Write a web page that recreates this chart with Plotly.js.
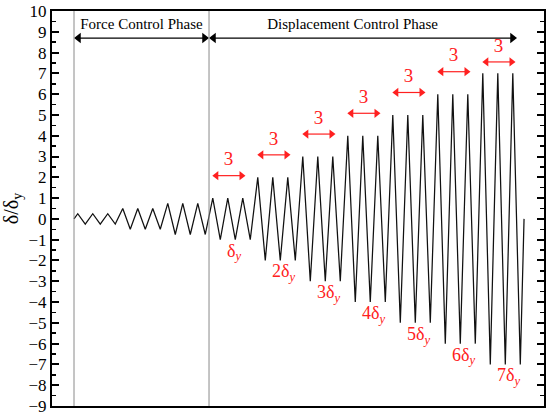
<!DOCTYPE html>
<html>
<head>
<meta charset="utf-8">
<script src="https://cdn.plot.ly/plotly-3.0.1.min.js"></script>
<style>html,body{margin:0;padding:0;background:#fff;}#chart{width:550px;height:419px;}</style>
</head>
<body>
<div id="chart"></div>
<script>
// Peak amplitude (δ/δy) of each loading cycle, in order
const cycleAmplitudes = [0.25, 0.25, 0.25, 0.5, 0.5, 0.5, 0.75, 0.75, 0.75,
  1, 1, 1, 2, 2, 2, 3, 3, 3, 4, 4, 4, 5, 5, 5, 6, 6, 6, 7, 7, 7];
// Phase boundaries in cycle number
const phaseBounds = [0, 9, 30];
const phaseNames = ['Force Control Phase', 'Displacement Control Phase'];
// Displacement levels and cycles per level
const dispLevels = [1, 2, 3, 4, 5, 6, 7];
const cyclesPerLevel = ['3', '3', '3', '3', '3', '3', '3'];
const levelLabels = ['δ<sub><i>y</i></sub>', '2δ<sub><i>y</i></sub>', '3δ<sub><i>y</i></sub>',
  '4δ<sub><i>y</i></sub>', '5δ<sub><i>y</i></sub>', '6δ<sub><i>y</i></sub>', '7δ<sub><i>y</i></sub>'];
const yTicks = [-9, -8, -7, -6, -5, -4, -3, -2, -1, 0, 1, 2, 3, 4, 5, 6, 7, 8, 9, 10];

// Build triangular history from cycle amplitudes
const xs = [0], ys = [0];
cycleAmplitudes.forEach((a, i) => {
  xs.push(i + 0.25); ys.push(a);
  xs.push(i + 0.75); ys.push(-a);
});
xs.push(cycleAmplitudes.length); ys.push(0);

const FONT = 'Liberation Serif, Times New Roman, serif';
const RED = '#ff2020';

const traces = [{
  x: xs, y: ys, type: 'scatter', mode: 'lines',
  line: {color: '#111', width: 1.25}, hoverinfo: 'skip'
}];

function doubleArrow(x0, x1, y, color, size, width) {
  const off = size / 2 / 15; // half marker width in cycle units
  traces.push({
    x: [x0 + off, x1 - off], y: [y, y], type: 'scatter', mode: 'lines+markers',
    line: {color: color, width: width},
    marker: {symbol: ['triangle-left', 'triangle-right'], size: size, color: color, line: {width: 0}},
    hoverinfo: 'skip', cliponaxis: false
  });
}

const shapes = phaseBounds.slice(0, 2).map(b => ({
  type: 'line', xref: 'x', yref: 'paper', x0: b, x1: b, y0: 0, y1: 1,
  line: {color: '#8a8a8a', width: 1}
}));

// Phase arrows and labels
const phaseArrowEnd = [9, 29.53];
const phaseLabelX = [4.5, 18.57];
phaseNames.forEach((name, i) => {
  doubleArrow(phaseBounds[i], phaseArrowEnd[i], 8.7, '#000', 9, 1.2);
});
traces.push({
  x: phaseLabelX, y: phaseLabelX.map(() => 9.31), type: 'scatter', mode: 'text',
  text: phaseNames, textposition: 'middle center',
  textfont: {family: FONT, size: 15, color: '#000'}, hoverinfo: 'skip', cliponaxis: false
});
// Cycle count arrows and level labels
const countX = [], countY = [], lvlX = [], lvlY = [];
dispLevels.forEach((lvl, k) => {
  const start = phaseBounds[1] + 3 * k;
  const ya = Math.min(lvl + 1.08, 7.55);
  doubleArrow(start + 0.22, start + 2.43, ya, RED, 8, 1.2);
  countX.push(start + 1.3); countY.push(ya + 0.72);
  lvlX.push(start + 1.2); lvlY.push(-(lvl + 0.6));
});
traces.push({
  x: countX, y: countY, type: 'scatter', mode: 'text', text: cyclesPerLevel,
  textposition: 'middle center', textfont: {family: FONT, size: 19, color: RED},
  hoverinfo: 'skip', cliponaxis: false
});
traces.push({
  x: lvlX, y: lvlY, type: 'scatter', mode: 'text', text: levelLabels,
  textposition: 'middle right', textfont: {family: FONT, size: 18, color: RED},
  hoverinfo: 'skip', cliponaxis: false
});

const layout = {
  width: 550, height: 419,
  margin: {l: 52, r: 6, t: 11, b: 13},
  paper_bgcolor: '#fff', plot_bgcolor: '#fff',
  showlegend: false,
  font: {family: FONT, color: '#000'},
  xaxis: {
    range: [-1.467, 31.33], showgrid: false, zeroline: false,
    showticklabels: false, ticks: '', showline: true, mirror: true,
    linecolor: '#000', linewidth: 2
  },
  yaxis: {
    range: [-9, 10], tickvals: yTicks, ticktext: yTicks.map(v => v < 0 ? '\u2212' + (-v) : String(v)),
    showgrid: false, zeroline: false, ticks: 'inside', ticklen: 7, tickwidth: 2,
    tickcolor: '#000', showline: true, mirror: 'ticks', linecolor: '#000', linewidth: 2,
    tickfont: {family: FONT, size: 17, color: '#000'},
    minor: {dtick: 0.5, ticks: 'inside', ticklen: 4, tickwidth: 1.5, tickcolor: '#000'},
    title: {text: 'δ/δ<sub>y</sub>', font: {family: FONT, size: 20, color: '#000'}, standoff: 6}
  },
  shapes: shapes
};

Plotly.newPlot('chart', traces, layout, {staticPlot: true, displayModeBar: false}).then(gd => {
  gd.querySelectorAll('text').forEach(t => {
    const fs = t.style.fontSize || window.getComputedStyle(t).fontSize;
    if (fs) t.setAttribute('font-size', fs);
  });
});
</script>
</body>
</html>
